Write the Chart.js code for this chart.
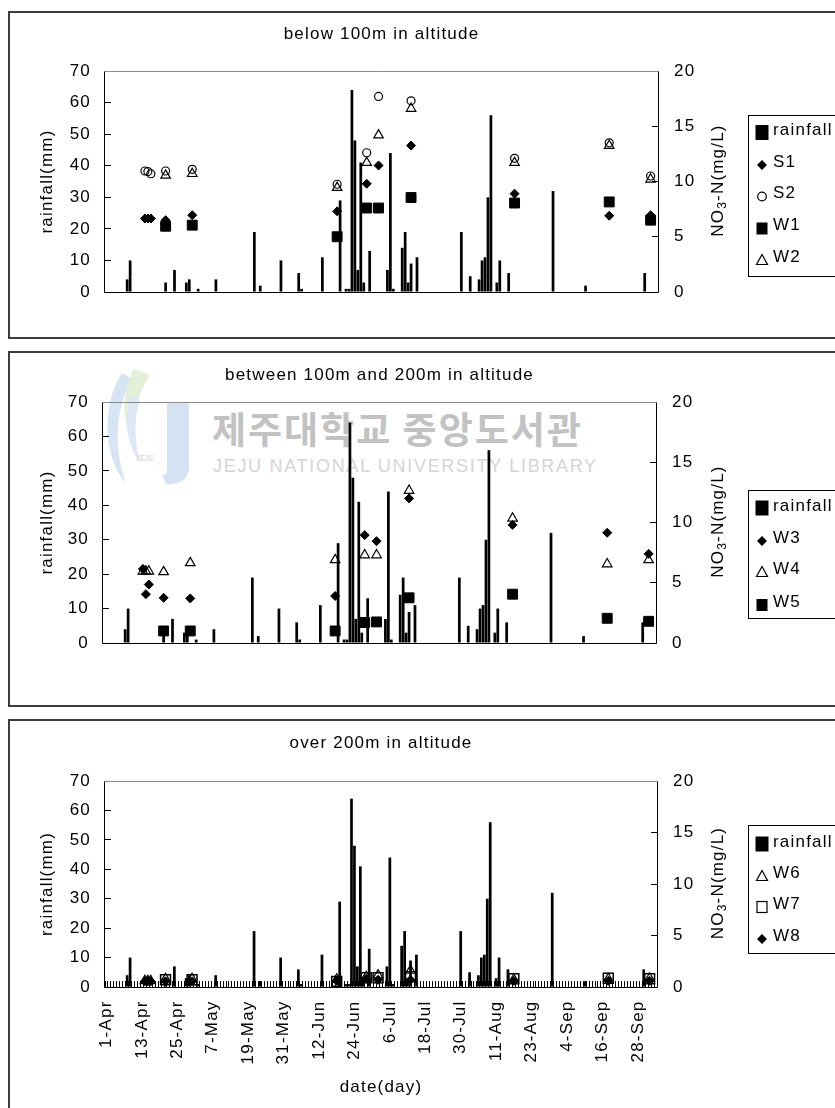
<!DOCTYPE html>
<html>
<head>
<meta charset="utf-8">
<script src="https://cdn.jsdelivr.net/npm/chart.js@4.4.1/dist/chart.umd.min.js"></script>
<style>
  html, body { margin: 0; padding: 0; background: #fff; }
  body { position: relative; width: 835px; height: 1108px; overflow: hidden; }
  .panel { position: absolute; left: 8px; width: 850px; border: 2px solid #3c3c3c; box-sizing: border-box; }
  canvas { position: absolute; left: 0; }
  .wm-ko { position: absolute; left: 212px; top: 401px; font-family: 'Noto Sans CJK KR', sans-serif; font-weight: bold; font-size: 37px; color: #c2c2c2; letter-spacing: 2px; white-space: nowrap; }
  .wm-en { position: absolute; left: 213px; top: 456px; font-family: 'Liberation Sans', Arial, sans-serif; font-size: 18px; color: #d4d4d4; letter-spacing: 1.7px; white-space: nowrap; }
  .wm-logo { position: absolute; left: 100px; top: 365px; opacity: 0.6; }
</style>
</head>
<body>
<div class="panel" style="top:11px; height:328px;"></div>
<div class="panel" style="top:351px; height:356px;"></div>
<div class="panel" style="top:719px; height:400px;"></div>
<svg class="wm-logo" width="100" height="125" viewBox="0 0 100 125">
  <path d="M22 8 C2 38 2 92 26 118 C14 86 14 46 32 14 Z" fill="#bcd3ec"/>
  <path d="M34 4 C20 30 22 62 36 84 C32 58 35 32 50 10 Z" fill="#d3e6bd"/>
  <path d="M30 30 C24 52 26 78 40 98 C34 74 34 52 40 34 Z" fill="#c9daf0"/>
  <text x="36" y="96" font-family="Liberation Serif, serif" font-size="9" fill="#b0b0b0">JEJU</text>
  <path d="M67 38 H89 V102 C89 114 80 120 66 119 L62 110 C68 110 67 106 67 100 Z" fill="#b9cfe9"/>
</svg>
<div class="wm-ko">제주대학교 중앙도서관</div>
<div class="wm-en">JEJU NATIONAL UNIVERSITY LIBRARY</div>
<canvas id="c1" width="835" height="345" style="top:0px;"></canvas>
<canvas id="c2" width="835" height="362" style="top:345px;"></canvas>
<canvas id="c3" width="835" height="396" style="top:712px;"></canvas>
<script>
// ---- daily category axis (1-Apr .. 4-Oct) ----
const monthLengths = [['Apr', 30], ['May', 31], ['Jun', 30], ['Jul', 31], ['Aug', 31], ['Sep', 30], ['Oct', 4]];
const days = [];
monthLengths.forEach(([m, n]) => { for (let d = 1; d <= n; d++) days.push(d + '-' + m); });

const tickLabels = ['1-Apr', '13-Apr', '25-Apr', '7-May', '19-May', '31-May', '12-Jun', '24-Jun',
  '6-Jul', '18-Jul', '30-Jul', '11-Aug', '23-Aug', '4-Sep', '16-Sep', '28-Sep'];

// ---- daily rainfall (mm) ----
const rainDates = ['8-Apr', '9-Apr', '21-Apr', '24-Apr', '28-Apr', '29-Apr', '2-May', '8-May', '21-May', '23-May',
  '30-May', '5-Jun', '6-Jun', '13-Jun', '19-Jun', '21-Jun', '22-Jun', '23-Jun', '24-Jun', '25-Jun', '26-Jun',
  '27-Jun', '29-Jun', '5-Jul', '6-Jul', '7-Jul', '10-Jul', '11-Jul', '12-Jul', '13-Jul', '15-Jul', '30-Jul',
  '2-Aug', '5-Aug', '6-Aug', '7-Aug', '8-Aug', '9-Aug', '11-Aug', '12-Aug', '15-Aug', '30-Aug', '10-Sep', '30-Sep'];
const rainMm = [4, 10, 3, 7, 3, 4, 1, 4, 19, 2,
  10, 6, 1, 11, 29, 1, 1, 64, 48, 7, 41,
  3, 13, 7, 44, 1, 14, 19, 3, 9, 11, 19,
  5, 4, 10, 11, 30, 56, 3, 10, 6, 32, 2, 6];

// ---- NO3-N sampling (mg/L) ----
const sampleDates = ['14-Apr', '15-Apr', '16-Apr', '21-Apr', '30-Apr', '18-Jun', '28-Jun', '2-Jul', '13-Jul', '17-Aug', '18-Sep', '2-Oct'];
const S1 = [6.65, 6.65, 6.65, 6.5, 6.95, 7.3, 9.8, 11.45, 13.25, 8.9, 6.9, 6.95];
const S2 = [10.95, 10.9, 10.7, 10.95, 11.1, 9.75, 12.6, 17.7, 17.3, 12.1, 13.5, 10.5];
const W1 = [null, null, null, 5.95, 6.05, 5.0, 7.6, 7.6, 8.55, 8.05, 8.15, 6.5];
const W2 = [null, null, null, 10.55, 10.7, 9.45, 11.7, 14.2, 16.6, 11.7, 13.25, 10.2];
const W3 = [6.15, 4.05, 4.85, 3.75, 3.7, 3.9, 8.95, 8.45, 12.0, 9.8, 9.15, 7.4];
const W4 = [5.95, 5.95, 5.95, 5.9, 6.65, 6.9, 7.3, 7.3, 12.65, 10.35, 6.55, 6.9];
const W5 = [null, null, null, 1.0, 1.0, 1.0, 1.7, 1.75, 3.75, 4.05, 2.05, 1.8];
const W6 = [0.6, 0.6, 0.6, 0.8, 0.8, 0.75, 1.0, 1.15, 1.6, 0.75, 0.8, 0.85];
const W7 = [null, null, null, 0.7, 0.7, 0.55, 0.9, 0.9, 1.0, 0.8, 0.85, 0.8];
const W8 = [0.55, 0.55, 0.55, 0.55, 0.55, 0.6, 0.8, 0.7, 0.7, 0.6, 0.6, 0.6];

// ---- styling ----
const FONT = "'Liberation Sans', Arial, sans-serif";
const FONT_SIZE = 17;
Chart.defaults.font.family = FONT;
Chart.defaults.font.size = FONT_SIZE;
Chart.defaults.color = '#000';
const SPACING = '1.2px';

const MARKERS = {
  diamond:    { pointStyle: 'rectRot', pointRadius: 4.5, pointBackgroundColor: '#000', pointBorderColor: '#000', pointBorderWidth: 1 },
  circle:     { pointStyle: 'circle', pointRadius: 4, pointBackgroundColor: 'rgba(0,0,0,0)', pointBorderColor: '#000', pointBorderWidth: 1.2 },
  square:     { pointStyle: 'rect', pointRadius: 7, pointBackgroundColor: '#000', pointBorderColor: '#000', pointBorderWidth: 1 },
  openSquare: { pointStyle: 'rect', pointRadius: 7, pointBackgroundColor: 'rgba(0,0,0,0)', pointBorderColor: '#000', pointBorderWidth: 1.5 },
  triangle:   { pointStyle: 'triangle', pointRadius: 5.5, pointBackgroundColor: 'rgba(0,0,0,0)', pointBorderColor: '#000', pointBorderWidth: 1.2 }
};

function rainSeries() {
  const arr = days.map(() => null);
  rainDates.forEach((d, i) => { arr[days.indexOf(d)] = rainMm[i]; });
  return arr;
}

function sampleSet(label, values, marker, order) {
  const data = sampleDates.map((d, i) => ({ x: d, y: values[i] })).filter(p => p.y !== null);
  return Object.assign({ type: 'line', label, data, showLine: false, yAxisID: 'y1', order,
    pointHoverRadius: MARKERS[marker].pointRadius }, MARKERS[marker]);
}

// canvas text in this figure is slightly tracked out
const spacingPlugin = {
  id: 'spacing',
  beforeUpdate(chart) { chart.ctx.letterSpacing = SPACING; },
  beforeDraw(chart) { chart.ctx.letterSpacing = SPACING; }
};

function drawSymbol(ctx, kind, x, y) {
  ctx.save();
  ctx.fillStyle = '#000'; ctx.strokeStyle = '#000'; ctx.lineWidth = 1.2;
  ctx.beginPath();
  if (kind === 'bar') { ctx.fillRect(x - 6.5, y - 7.5, 13, 15); }
  else if (kind === 'diamond') { ctx.moveTo(x, y - 5); ctx.lineTo(x + 5, y); ctx.lineTo(x, y + 5); ctx.lineTo(x - 5, y); ctx.closePath(); ctx.fill(); }
  else if (kind === 'circle') { ctx.arc(x, y, 4.3, 0, Math.PI * 2); ctx.stroke(); }
  else if (kind === 'square') { ctx.fillRect(x - 5.5, y - 6, 11, 12); }
  else if (kind === 'openSquare') { ctx.strokeRect(x - 5, y - 5.5, 10, 11); }
  else if (kind === 'triangle') { ctx.moveTo(x, y - 5.5); ctx.lineTo(x + 5.5, y + 4.5); ctx.lineTo(x - 5.5, y + 4.5); ctx.closePath(); ctx.stroke(); }
  ctx.restore();
}

// plot frame, right-hand axis title and legend box
const decorPlugin = {
  id: 'decor',
  afterDatasetsDraw(chart) {
    const ctx = chart.ctx;
    const { left, right, top, bottom } = chart.chartArea;
    const L = Math.round(left) - 0.5, R = Math.round(right) + 0.5, T = Math.round(top) + 0.5, B = Math.round(bottom) + 0.5;
    ctx.save();
    ctx.lineWidth = 1;
    ctx.strokeStyle = '#8a8a8a';
    ctx.beginPath(); ctx.moveTo(L, T); ctx.lineTo(R, T); ctx.stroke();
    ctx.strokeStyle = '#000';
    ctx.beginPath(); ctx.moveTo(L, T); ctx.lineTo(L, B); ctx.lineTo(R, B); ctx.lineTo(R, T); ctx.stroke();
    ctx.restore();
  },
  afterDraw(chart, args, opts) {
    const ctx = chart.ctx;
    const { top, bottom } = chart.chartArea;
    ctx.save();
    ctx.letterSpacing = SPACING;
    // NO3-N(mg/L) rotated, reading upward
    const big = FONT_SIZE + 'px ' + FONT, small = '12px ' + FONT;
    ctx.font = big; const w1 = ctx.measureText('NO').width, w3 = ctx.measureText('-N(mg/L)').width;
    ctx.font = small; const w2 = ctx.measureText('3').width;
    const total = w1 + w2 + w3;
    ctx.translate(opts.titleX, (top + bottom) / 2 - 1);
    ctx.rotate(-Math.PI / 2);
    ctx.fillStyle = '#000';
    ctx.textBaseline = 'middle';
    ctx.textAlign = 'left';
    let x = -total / 2;
    ctx.font = big; ctx.fillText('NO', x, 0); x += w1;
    ctx.font = small; ctx.fillText('3', x, 5); x += w2;
    ctx.font = big; ctx.fillText('-N(mg/L)', x, 0);
    ctx.restore();

    // legend
    const lg = opts.legend;
    ctx.save();
    ctx.letterSpacing = SPACING;
    ctx.strokeStyle = '#000'; ctx.lineWidth = 1;
    ctx.strokeRect(748.5, lg.top + 0.5, 120, lg.bottom - lg.top);
    ctx.font = FONT_SIZE + 'px ' + FONT;
    ctx.textBaseline = 'middle'; ctx.textAlign = 'left'; ctx.fillStyle = '#000';
    lg.items.forEach(it => {
      drawSymbol(ctx, it.sym, 762, it.y + (it.sym === 'bar' ? 2 : 3));
      ctx.fillText(it.text, 773, it.y);
    });
    ctx.restore();
  }
};

function buildPanel(id, cfg) {
  const xScale = cfg.showDates ? {
    display: true,
    offset: true,
    ticks: {
      autoSkip: false, maxRotation: 90, minRotation: 90, padding: 19.5,
      callback(v, i) { const l = days[i]; return tickLabels.includes(l) ? l : ''; }
    },
    grid: { drawOnChartArea: false, drawTicks: true, tickLength: -6, color: '#000', tickColor: '#000', offset: true },
    border: { display: false },
    title: { display: true, text: 'date(day)', padding: { top: 0, bottom: cfg.xTitlePad } },
    afterFit(s) { s.height = cfg.xHeight; }
  } : { display: false, offset: true };

  return new Chart(document.getElementById(id), {
    type: 'bar',
    data: {
      labels: days,
      datasets: [
        { type: 'bar', label: 'rainfall', data: rainSeries(), backgroundColor: '#000', borderWidth: 0,
          barPercentage: 0.92, categoryPercentage: 1, yAxisID: 'y', order: 20 },
        ...cfg.series
      ]
    },
    options: {
      responsive: false,
      animation: false,
      events: [],
      layout: { padding: { left: 0, right: 0, top: 0, bottom: cfg.padBottom } },
      plugins: {
        legend: { display: false },
        tooltip: { enabled: false },
        title: { display: true, text: cfg.title, fullSize: false, color: '#000',
          font: { size: FONT_SIZE, weight: 'normal' }, padding: { top: cfg.titleTop, bottom: cfg.titleBottom } },
        decor: { titleX: 718, legend: cfg.legend }
      },
      scales: {
        x: xScale,
        y: {
          position: 'left', min: 0, max: 70,
          ticks: { stepSize: 10, padding: 20 },
          grid: { drawOnChartArea: false, drawTicks: true, tickLength: -6, color: '#000', tickColor: '#000' },
          border: { display: false },
          title: { display: true, text: 'rainfall(mm)', padding: { top: 36.8, bottom: 0 } },
          afterFit(s) { s.width = cfg.plotLeft; }
        },
        y1: {
          position: 'right', min: 0, max: 20,
          ticks: { stepSize: 5, padding: 22 },
          grid: { drawOnChartArea: false, drawTicks: true, tickLength: -6, color: '#000', tickColor: '#000' },
          border: { display: false },
          afterFit(s) { s.width = 835 - cfg.plotRight; }
        }
      }
    },
    plugins: [spacingPlugin, decorPlugin]
  });
}

// below 100 m
buildPanel('c1', {
  title: 'below 100m in altitude',
  titleTop: 24.3, titleBottom: 26.3, padBottom: 53,
  plotLeft: 105, plotRight: 658,
  series: [
    sampleSet('S1', S1, 'diamond', 1),
    sampleSet('S2', S2, 'circle', 3),
    sampleSet('W1', W1, 'square', 2),
    sampleSet('W2', W2, 'triangle', 4)
  ],
  legend: { top: 115, bottom: 276, items: [
    { sym: 'bar', text: 'rainfall', y: 130.5 },
    { sym: 'diamond', text: 'S1', y: 162 },
    { sym: 'circle', text: 'S2', y: 193.5 },
    { sym: 'square', text: 'W1', y: 225.5 },
    { sym: 'triangle', text: 'W2', y: 257 }
  ] }
});

// between 100 m and 200 m
buildPanel('c2', {
  title: 'between 100m and 200m in altitude',
  titleTop: 20.3, titleBottom: 16.3, padBottom: 64,
  plotLeft: 103, plotRight: 656,
  series: [
    sampleSet('W3', W3, 'diamond', 1),
    sampleSet('W4', W4, 'triangle', 3),
    sampleSet('W5', W5, 'square', 2)
  ],
  legend: { top: 145, bottom: 273, items: [
    { sym: 'bar', text: 'rainfall', y: 161 },
    { sym: 'diamond', text: 'W3', y: 193 },
    { sym: 'triangle', text: 'W4', y: 224 },
    { sym: 'square', text: 'W5', y: 257 }
  ] }
});

// over 200 m
buildPanel('c3', {
  title: 'over 200m in altitude',
  titleTop: 20.8, titleBottom: 27.8, padBottom: 0,
  plotLeft: 105, plotRight: 657,
  showDates: true, xHeight: 121, xTitlePad: 10.8,
  series: [
    sampleSet('W6', W6, 'triangle', 2),
    sampleSet('W7', W7, 'openSquare', 3),
    sampleSet('W8', W8, 'diamond', 1)
  ],
  legend: { top: 113, bottom: 241, items: [
    { sym: 'bar', text: 'rainfall', y: 130 },
    { sym: 'triangle', text: 'W6', y: 161 },
    { sym: 'openSquare', text: 'W7', y: 192 },
    { sym: 'diamond', text: 'W8', y: 224 }
  ] }
});
</script>
</body>
</html>
